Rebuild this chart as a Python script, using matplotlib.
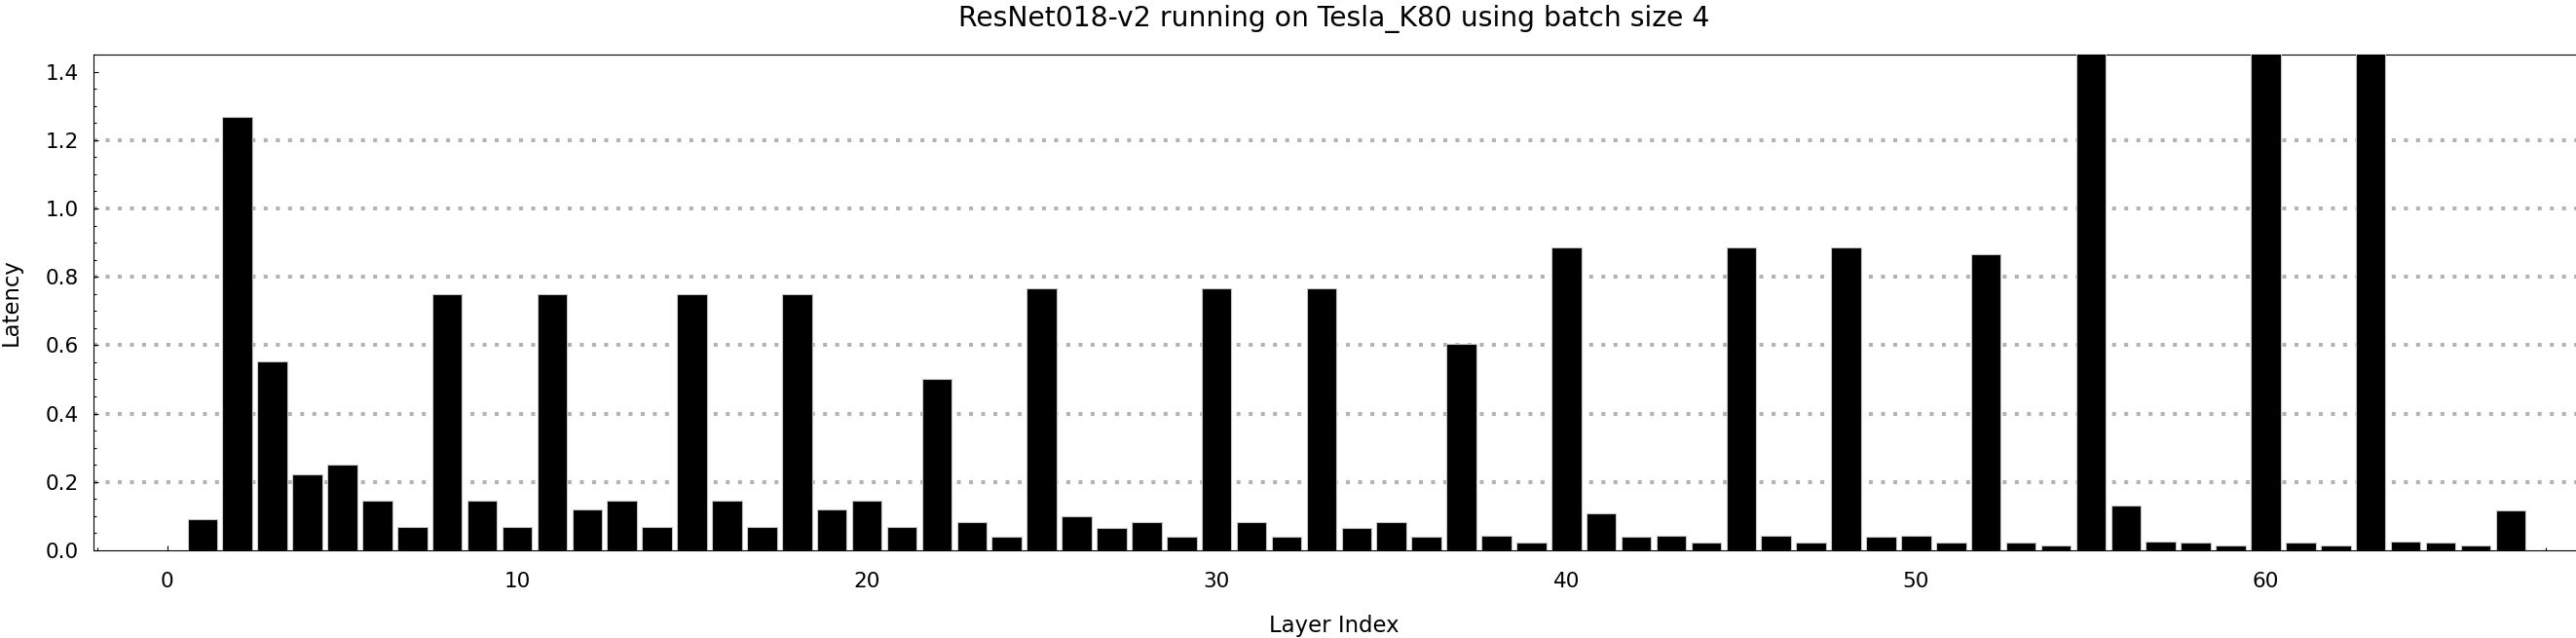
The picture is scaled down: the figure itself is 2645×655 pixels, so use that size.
"""
Per-layer latency bar chart for ResNet018-v2 on a Tesla K80 (batch size 4).
Writes out.png in the working directory.
"""

import numpy as np
import matplotlib
matplotlib.use("Agg")
import matplotlib.pyplot as plt
from matplotlib.ticker import MultipleLocator, FixedLocator

# ---------------------------------------------------------------------------
# Data (layers 55, 60 and 63 run off the top)
# ---------------------------------------------------------------------------
layer_index = list(range(1, 68))
latency = [
    0.092, 1.269, 0.554, 0.221, 0.250, 0.144, 0.068, 0.750, 0.144, 0.068,   # 1-10
    0.750, 0.119, 0.144, 0.068, 0.750, 0.144, 0.068, 0.750, 0.119, 0.144,   # 11-20
    0.068, 0.501, 0.082, 0.039, 0.765, 0.099, 0.065, 0.082, 0.039, 0.765,   # 21-30
    0.082, 0.039, 0.765, 0.065, 0.082, 0.039, 0.605, 0.042, 0.023, 0.886,   # 31-40
    0.107, 0.039, 0.042, 0.023, 0.886, 0.042, 0.023, 0.886, 0.039, 0.042,   # 41-50
    0.023, 0.865, 0.023, 0.013, 1.620, 0.131, 0.027, 0.023, 0.013, 1.620,   # 51-60
    0.023, 0.013, 1.620, 0.027, 0.023, 0.013, 0.117,                         # 61-67
]

title = "ResNet018-v2 running on Tesla_K80 using batch size 4"
x_label = "Layer Index"
y_label = "Latency"
grid_levels = [0.2, 0.4, 0.6, 0.8, 1.0, 1.2]

# ---------------------------------------------------------------------------
# Figure
# ---------------------------------------------------------------------------
plt.rcParams["font.family"] = "DejaVu Sans"

fig = plt.figure(figsize=(26.45, 6.55), dpi=100)
ax = fig.add_axes([0.0362, 0.1374, 0.9638, 0.7771])

# dotted horizontal guides, behind the bars
for g in grid_levels:
    ax.axhline(g, color="#b3b3b3", linewidth=2.9, linestyle=(0, (1.0, 2.1)),
               dash_capstyle="butt", zorder=0.5)

ax.bar(layer_index, latency, width=0.85, color="black",
       edgecolor="#c4c4c4", linewidth=0.8, zorder=3)

ax.set_xlim(-2.12, 68.87)
ax.set_ylim(0, 1.45)

# Mathematica-style frame: left + top, axis line at y = 0
ax.spines["right"].set_visible(False)
for side in ("left", "top", "bottom"):
    ax.spines[side].set_linewidth(0.8)

ax.xaxis.set_major_locator(FixedLocator([0, 10, 20, 30, 40, 50, 60]))
ax.xaxis.set_minor_locator(MultipleLocator(2))
ax.yaxis.set_major_locator(FixedLocator(np.arange(0, 1.41, 0.2)))
ax.yaxis.set_minor_locator(MultipleLocator(0.05))
ax.yaxis.set_major_formatter(plt.FuncFormatter(lambda v, _: f"{v:.1f}"))

ax.tick_params(axis="both", which="both", direction="in", width=0.8,
               labelsize=15.5, top=False, right=False)
ax.tick_params(axis="both", which="major", length=3.6)
ax.tick_params(axis="both", which="minor", length=2.0)
ax.tick_params(axis="x", which="major", pad=15.5)
ax.tick_params(axis="y", which="major", pad=10.5)

# title and axis labels placed in figure pixels
fig.text(0.518, 1 - 27 / 655, title, ha="center", va="baseline", fontsize=20.3)
fig.text(0.518, 5.7 / 655, x_label, ha="center", va="baseline", fontsize=16.4)
fig.text(11 / 2645, 1 - 310.5 / 655, y_label, ha="center", va="center",
         rotation=90, fontsize=16.4)

fig.savefig("out.png", dpi=100)
